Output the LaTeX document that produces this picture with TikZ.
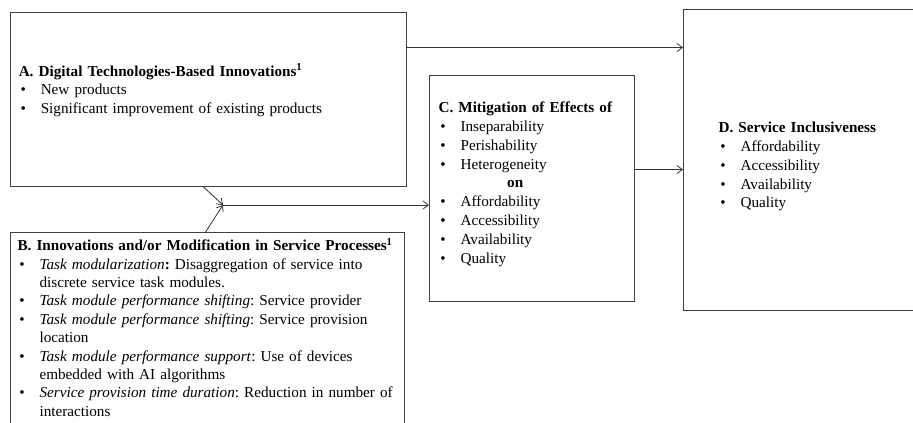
\documentclass[tikz,border=0pt]{standalone}
\usepackage{fontspec}
\setmainfont{Liberation Serif}
\usepackage{enumitem}
\usetikzlibrary{arrows.meta}

\setlist[itemize]{nosep,label=\textbullet,leftmargin=16.5pt,labelsep=11.2pt}
\def\onShift{35pt}
\tikzset{
  panel/.style={draw=black!75,line width=0.8pt,anchor=north west,inner sep=0pt},
  blurb/.style={anchor=base west,inner sep=0pt,align=left,font=\fontsize{11.4}{14.1}\selectfont\frenchspacing},
  link/.style={draw=black!80,line width=0.6pt,-{Straight Barb[length=4pt,width=6pt]}}
}

\begin{document}
\begin{tikzpicture}[x=0.75pt,y=-0.75pt]
    \clip (0,0) rectangle (913,422);

    % boxes
    \node[panel,minimum width=297pt,minimum height=130.5pt] (boxA) at (10,12) {};
    \node[panel,minimum width=295.5pt,minimum height=171pt] (boxB) at (10,232) {};
    \node[panel,minimum width=153.75pt,minimum height=169.5pt] (boxC) at (429,75) {};
    \node[panel,minimum width=185.25pt,minimum height=225.75pt] (boxD) at (683,9) {};

    % texts
    \node[blurb,text width=290pt] (txtA) at (18.5,76) {%
      \textbf{A. Digital Technologies-Based Innovations\textsuperscript{1}}
      \begin{itemize}
        \item New products
        \item Significant improvement of existing products
      \end{itemize}};

    \node[blurb,text width=290pt,font=\fontsize{11.4}{13.8}\selectfont\frenchspacing] (txtB) at (17.3,250.7) {%
      \textbf{B. Innovations and/or Modification in Service Processes\textsuperscript{1}}
      \begin{itemize}
        \item \textit{Task modularization}\textbf{:} Disaggregation of service into\newline discrete service task modules.
        \item \textit{Task module performance shifting}: Service provider
        \item \textit{Task module performance shifting}: Service provision\newline location
        \item \textit{Task module performance support}: Use of devices\newline embedded with AI algorithms
        \item \textit{Service provision time duration}: Reduction in number of\newline interactions
      \end{itemize}};

    \node[blurb,text width=145pt] (txtC) at (438.3,112.7) {%
      \textbf{C. Mitigation of Effects of}
      \begin{itemize}
        \item Inseparability
        \item Perishability
        \item Heterogeneity
        \item[] \hspace*{\onShift}\textbf{on}
        \item Affordability
        \item Accessibility
        \item Availability
        \item Quality
      \end{itemize}};

    \node[blurb,text width=160pt] (txtD) at (718.3,132.7) {%
      \textbf{D. Service Inclusiveness}
      \begin{itemize}
        \item Affordability
        \item Accessibility
        \item Availability
        \item Quality
      \end{itemize}};

    % connectors
    \coordinate (join) at (223,205);
    \draw[link] ([xshift=-3.75pt]boxA.south) -- (join);
    \draw[link] ([xshift=-1.5pt]boxB.north) -- (join);
    \draw[link] (join) -- (join -| boxC.west);
    \draw[link] ([yshift=39pt]boxA.east) -- ([yshift=39pt]boxA.east -| boxD.west);
    \draw[link] ([yshift=14.25pt]boxC.east) -- ([yshift=14.25pt]boxC.east -| boxD.west);
\end{tikzpicture}
\end{document}
